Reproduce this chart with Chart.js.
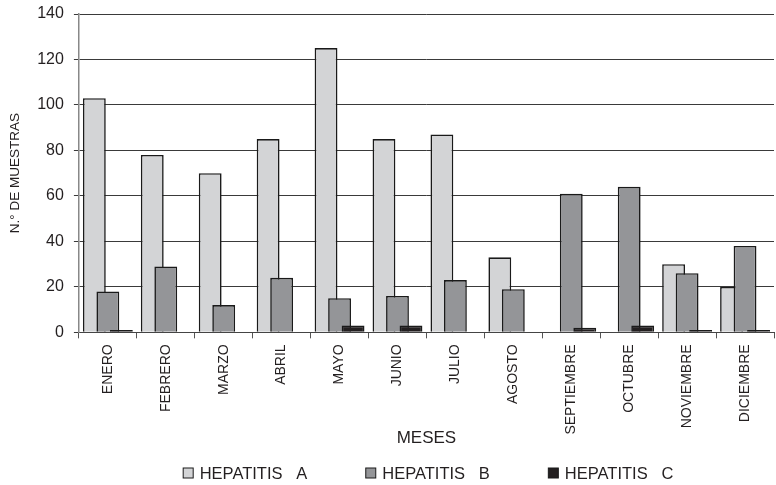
<!DOCTYPE html>
<html>
<head>
<meta charset="utf-8">
<script src="https://cdn.jsdelivr.net/npm/chart.js@4/dist/chart.umd.min.js"></script>
<style>
  html, body { margin: 0; padding: 0; background: #fff; }
  #wrap { width: 776px; height: 485px; }
</style>
</head>
<body>
<div id="wrap"><canvas id="muestrasChart"></canvas></div>
<script>
// Monthly samples per hepatitis type
const meses = ['ENERO', 'FEBRERO', 'MARZO', 'ABRIL', 'MAYO', 'JUNIO', 'JULIO',
    'AGOSTO', 'SEPTIEMBRE', 'OCTUBRE', 'NOVIEMBRE', 'DICIEMBRE'];
const hepatitisA = [103, 78, 70, 85, 125, 85, 87, 33, 0, 0, 30, 20];
const hepatitisB = [18, 29, 12, 24, 15, 16, 23, 19, 61, 64, 26, 38];
const hepatitisC = [1, 0, 0, 0, 3, 3, 0, 0, 2, 3, 1, 1];
const seriesNames = ['HEPATITIS   A', 'HEPATITIS   B', 'HEPATITIS   C'];
const yTicks = [0, 20, 40, 60, 80, 100, 120, 140];

const colors = {
    a: '#d3d4d6',
    b: '#949598',
    c: '#231f20',
    text: '#231f20',
    border: '#1a1a1a'
};
const fontFamily = '"Liberation Sans", Arial, sans-serif';

// draw datasets left to right so later bars overlap earlier ones
const drawInOrder = {
    id: 'drawInOrder',
    beforeDatasetsDraw(chart) {
        chart.getSortedVisibleDatasetMetas().forEach(meta => chart._drawDataset(meta));
        return false;
    }
};

// legend row under the axis title, like the original spreadsheet chart
const bottomLegend = {
    id: 'bottomLegend',
    afterDraw(chart) {
        const ctx = chart.ctx;
        const datasets = chart.data.datasets;
        const box = 11, gap = 6, space = 58;
        ctx.save();
        ctx.font = '16.5px ' + fontFamily;
        const widths = datasets.map(ds => box + gap + ctx.measureText(ds.label).width);
        const total = widths.reduce((s, w) => s + w, 0) + space * (datasets.length - 1);
        let x = 428 - total / 2;
        const y = chart.height - 12;
        ctx.textBaseline = 'middle';
        ctx.textAlign = 'left';
        datasets.forEach((ds, i) => {
            ctx.fillStyle = ds.backgroundColor;
            ctx.fillRect(x + 0.5, y - box / 2 + 0.5, box - 1, box - 1);
            ctx.strokeStyle = colors.border;
            ctx.lineWidth = 1;
            ctx.strokeRect(x + 0.5, y - box / 2 + 0.5, box - 1, box - 1);
            ctx.fillStyle = colors.text;
            ctx.fillText(ds.label, x + box + gap, y + 1);
            x += widths[i] + space;
        });
        ctx.restore();
    }
};

const ctx = document.getElementById('muestrasChart').getContext('2d');
new Chart(ctx, {
    type: 'bar',
    data: {
        labels: meses,
        datasets: [{
            label: seriesNames[0],
            data: hepatitisA,
            backgroundColor: colors.a
        }, {
            label: seriesNames[1],
            data: hepatitisB,
            backgroundColor: colors.b
        }, {
            label: seriesNames[2],
            data: hepatitisC,
            backgroundColor: colors.c
        }]
    },
    options: {
        responsive: true,
        maintainAspectRatio: false,
        animation: false,
        layout: {
            padding: { top: 14, right: 2, left: 0, bottom: 36 }
        },
        datasets: {
            bar: {
                borderColor: colors.border,
                borderWidth: 1.6,
                categoryPercentage: 0.70,
                barPercentage: 1.69
            }
        },
        plugins: {
            tooltip: { enabled: false },
            legend: { display: false }
        },
        scales: {
            x: {
                offset: true,
                grid: {
                    offset: true,
                    drawOnChartArea: false,
                    drawTicks: true,
                    tickLength: 6,
                    color: '#555'
                },
                border: { color: '#444', width: 1 },
                ticks: {
                    color: colors.text,
                    minRotation: 90,
                    maxRotation: 90,
                    autoSkip: false,
                    padding: 6,
                    font: { family: fontFamily, size: 14 }
                },
                title: {
                    display: true,
                    text: 'MESES',
                    color: colors.text,
                    padding: { top: -12, bottom: 0 },
                    font: { family: fontFamily, size: 17 }
                }
            },
            y: {
                min: 0,
                max: 140,
                afterBuildTicks(axis) {
                    axis.ticks = yTicks.map(v => ({ value: v }));
                },
                afterFit(axis) {
                    // let the top label sit in the layout padding instead
                    axis.paddingTop = 0;
                },
                grid: {
                    color: '#3a3a3a',
                    lineWidth: 1,
                    tickLength: 5
                },
                border: { color: '#888', width: 1.5 },
                ticks: {
                    color: colors.text,
                    padding: 10,
                    font: { family: fontFamily, size: 16 }
                },
                title: {
                    display: true,
                    text: 'N.° DE MUESTRAS',
                    color: colors.text,
                    padding: { top: 7, bottom: 4 },
                    font: { family: fontFamily, size: 13.5 }
                }
            }
        }
    },
    plugins: [drawInOrder, bottomLegend]
});
</script>
</body>
</html>
